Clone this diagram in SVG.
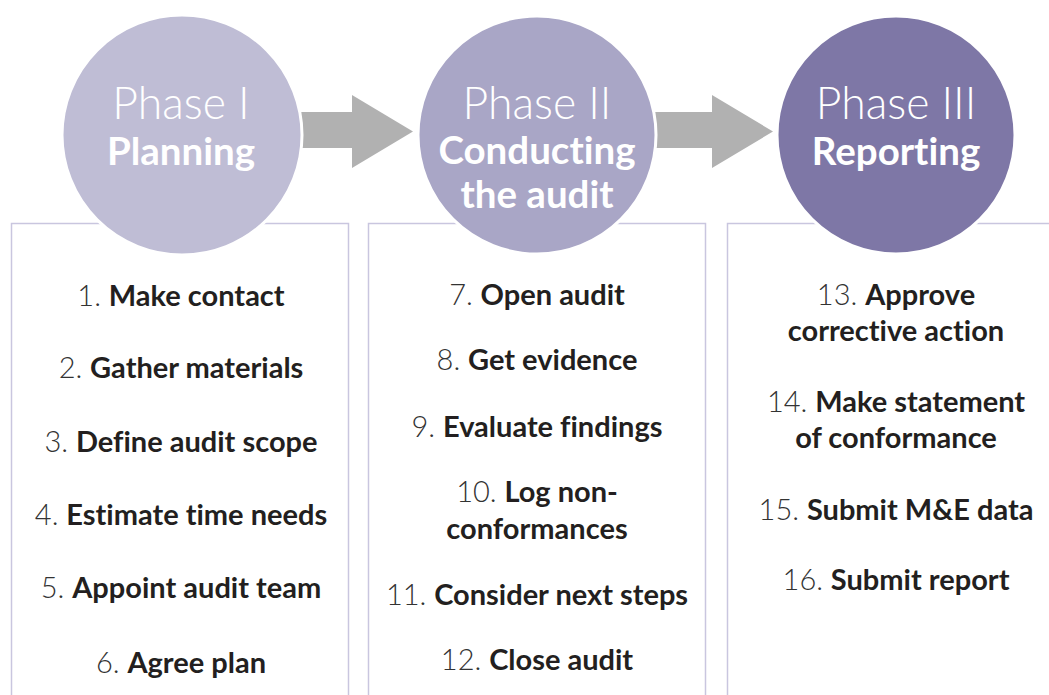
<svg xmlns="http://www.w3.org/2000/svg" width="1049" height="695" viewBox="0 0 1049 695">
<style>
.box{fill:#ffffff;stroke:#c9c6df;stroke-width:1.5}
.arrow{fill:#b1b1b1}
.circ{stroke:#ffffff;stroke-width:3}
text{font-variant-ligatures:none;font-feature-settings:"liga" 0,"clig" 0,"dlig" 0}
.ph{font-family:Lato,"Open Sans",sans-serif;font-weight:300;font-size:44.5px;fill:#ffffff;text-anchor:middle}
.pb{font-family:Lato,"Open Sans",sans-serif;font-weight:700;font-size:38.5px;fill:#ffffff;text-anchor:middle}
.it{font-family:Lato,"Open Sans",sans-serif;font-size:29px;fill:#231f20;text-anchor:middle;font-weight:700}
.n{font-weight:300;fill:#333333}
</style>
<rect width="1049" height="695" fill="#ffffff"/>
<g id="boxes">
<path class="box" d="M11.5 700 V223.5 H348.5 V700"/>
<path class="box" d="M368.5 700 V223.5 H705.5 V700"/>
<path class="box" d="M727.5 700 V223.5 H1060 V700"/>
</g>
<g id="connectors">
<polygon class="arrow" points="290,112 352,112 352,95 413,131.5 352,168 352,148 290,148"/>
<polygon class="arrow" points="650,112 712,112 712,95 773,131.5 712,168 712,148 650,148"/>
</g>
<g id="phase1">
<circle class="circ" cx="182" cy="135" r="120" fill="#bfbdd5"/>
<text class="ph" x="181" y="119">Phase I</text>
<text class="pb" x="181" y="165">Planning</text>
</g>
<g id="phase2">
<circle class="circ" cx="537" cy="135" r="119" fill="#a9a6c6"/>
<text class="ph" x="537" y="119">Phase II</text>
<text class="pb" x="537" y="164">Conducting</text>
<text class="pb" x="537" y="208">the audit</text>
</g>
<g id="phase3">
<circle class="circ" cx="896" cy="135" r="119" fill="#7e77a6"/>
<text class="ph" x="896" y="119">Phase III</text>
<text class="pb" x="896" y="165">Reporting</text>
</g>
<g id="list1">
<text class="it" x="181" y="306"><tspan class="n">1. </tspan>Make contact</text>
<text class="it" x="181" y="378"><tspan class="n">2. </tspan>Gather materials</text>
<text class="it" x="181" y="452"><tspan class="n">3. </tspan>Define audit scope</text>
<text class="it" x="181" y="525"><tspan class="n">4. </tspan>Estimate time needs</text>
<text class="it" x="181" y="598"><tspan class="n">5. </tspan>Appoint audit team</text>
<text class="it" x="181" y="673"><tspan class="n">6. </tspan>Agree plan</text>
</g>
<g id="list2">
<text class="it" x="537" y="305"><tspan class="n">7. </tspan>Open audit</text>
<text class="it" x="537" y="370"><tspan class="n">8. </tspan>Get evidence</text>
<text class="it" x="537" y="437"><tspan class="n">9. </tspan>Evaluate findings</text>
<text class="it" x="537" y="502"><tspan class="n">10. </tspan>Log non-</text>
<text class="it" x="537" y="539">conformances</text>
<text class="it" x="537" y="605"><tspan class="n">11. </tspan>Consider next steps</text>
<text class="it" x="537" y="670"><tspan class="n">12. </tspan>Close audit</text>
</g>
<g id="list3">
<text class="it" x="896" y="305"><tspan class="n">13. </tspan>Approve</text>
<text class="it" x="896" y="341">corrective action</text>
<text class="it" x="896" y="412"><tspan class="n">14. </tspan>Make statement</text>
<text class="it" x="896" y="448">of conformance</text>
<text class="it" x="896" y="520"><tspan class="n">15. </tspan>Submit M&amp;E data</text>
<text class="it" x="896" y="590"><tspan class="n">16. </tspan>Submit report</text>
</g>
</svg>
